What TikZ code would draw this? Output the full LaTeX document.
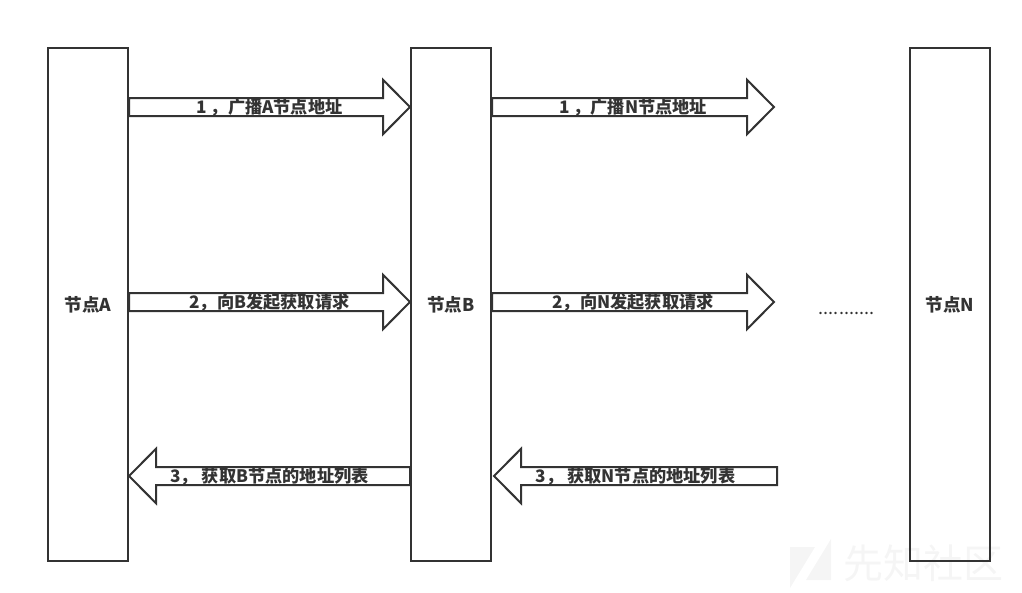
\documentclass[tikz,border=0pt]{standalone}
\usepackage{fontspec}
\usepackage{tikz}
\usetikzlibrary{calc}
\setmainfont{Noto Sans CJK SC}
\definecolor{inkc}{HTML}{333333}
\definecolor{markc}{HTML}{F5F5F5}
\tikzset{
	peer/.style={draw=inkc, line width=1.5pt, minimum width=60pt, minimum height=384.75pt, inner sep=0pt, text=inkc, font=\fontsize{13.2}{15}\selectfont\bfseries},
	flow/.style={draw=inkc, line width=1.5pt, line join=miter, to path={
		($(\tikztostart)!6.75pt!90:(\tikztotarget)$)
		-- ($(\tikztotarget)!20.25pt!(\tikztostart)!6.75pt!90:(\tikztotarget)$)
		-- ($(\tikztotarget)!20.25pt!(\tikztostart)!20.4pt!90:(\tikztotarget)$)
		-- (\tikztotarget)
		-- ($(\tikztotarget)!20.25pt!(\tikztostart)!20.4pt!-90:(\tikztotarget)$)
		-- ($(\tikztotarget)!20.25pt!(\tikztostart)!6.75pt!-90:(\tikztotarget)$)
		-- ($(\tikztostart)!6.75pt!-90:(\tikztotarget)$) -- cycle}},
	flowtext/.style={inner sep=0pt, yshift=-0.6pt, text=inkc, font=\fontsize{12.9}{15}\selectfont\bfseries},
}
\begin{document}
\begin{tikzpicture}[x=0.75pt, y=-0.75pt]
	\useasboundingbox (0,0) rectangle (1022,593);
	% watermark
	\fill[markc] (790,547) -- (815,547) -- (790,588) -- cycle;
	\fill[markc] (831,539) -- (831,580) -- (806,580) -- cycle;
	\node[text=markc, font=\fontsize{30}{32}\selectfont, inner sep=0pt] (mark) at (923,563) {先知社区};

	\node[peer] (A) at (88,304.5) {\raisebox{-1pt}{节点A}};
	\node[peer] (B) at (451,304.5) {\raisebox{-1pt}{节点B}};
	\node[peer] (N) at (950,304.5) {\raisebox{-1pt}{节点N}};

	\coordinate (r1) at (0,107);
	\coordinate (r2) at (0,302);
	\coordinate (r3) at (0,476);
	\coordinate (n1) at (774,107);
	\coordinate (n2) at (774,302);
	\coordinate (n3) at (777,476);
	\coordinate (b3) at (494,476);

	\draw[flow] (A.east |- r1) to (B.west |- r1);
	\draw[flow] (A.east |- r2) to (B.west |- r2);
	\draw[flow] (B.west |- r3) to (A.east |- r3);
	\draw[flow] (B.east |- r1) to (n1);
	\draw[flow] (B.east |- r2) to (n2);
	\draw[flow] (n3) to (b3);

	\node[flowtext] (t1) at ($(A.east |- r1)!.5!(B.west |- r1)$) {1 ，广播A节点地址};
	\node[flowtext] (t2) at ($(A.east |- r2)!.5!(B.west |- r2)$) {2，向B发起获取请求};
	\node[flowtext] (t3) at ($(A.east |- r3)!.5!(B.west |- r3)$) {3， 获取B节点的地址列表};
	\node[flowtext] (t4) at ($(B.east |- r1)!.5!(n1)$) {1 ，广播N节点地址};
	\node[flowtext] (t5) at ($(B.east |- r2)!.5!(n2)$) {2，向N发起获取请求};
	\node[flowtext] (t6) at ($(b3)!.5!(n3)$) {3， 获取N节点的地址列表};

	\node[text=inkc, font=\fontsize{13.5}{15}\selectfont, inner sep=0pt] (dots) at (846.5,313) {...........};
\end{tikzpicture}
\end{document}
